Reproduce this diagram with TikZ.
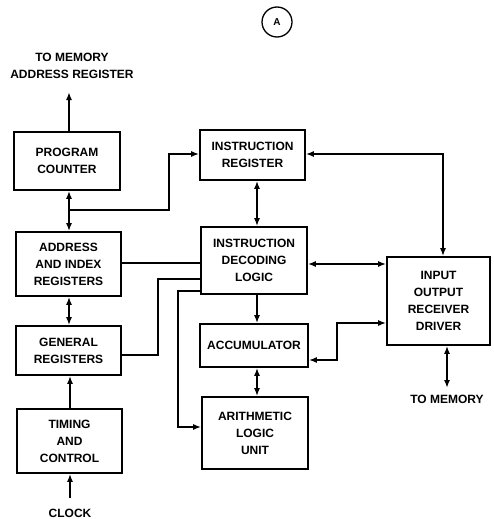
\documentclass[tikz,border=0pt]{standalone}
\usepackage{fontspec}
\setmainfont{Liberation Sans}
\usetikzlibrary{arrows.meta}
\begin{document}
\begin{tikzpicture}[x=1pt,y=-1pt,
  box/.style={draw,line width=1.6pt,align=center,inner sep=0pt,font=\bfseries\fontsize{12}{17}\selectfont},
  lbl/.style={align=center,inner sep=0pt,font=\bfseries\fontsize{12}{17}\selectfont},
  conn/.style={line width=1.6pt},
  >={Latex[length=8pt,width=6pt]}]
\useasboundingbox (0,0) rectangle (494,519);
% circle label
\node[draw,circle,line width=1.3pt,minimum size=30pt,inner sep=0pt,font=\bfseries\fontsize{10}{10}\selectfont] (circA) at (277,22) {A};
% boxes
\node[box,minimum width=106pt,minimum height=58pt] (pc) at (67,161) {PROGRAM\\COUNTER};
\node[box,minimum width=105pt,minimum height=64pt] (air) at (68.5,264) {ADDRESS\\AND INDEX\\REGISTERS};
\node[box,minimum width=105pt,minimum height=49pt] (gr) at (68.5,350.5) {GENERAL\\REGISTERS};
\node[box,minimum width=105pt,minimum height=64pt] (tc) at (69.5,441) {TIMING\\AND\\CONTROL};
\node[box,minimum width=105pt,minimum height=50pt] (ir) at (252.5,155) {INSTRUCTION\\REGISTER};
\node[box,minimum width=106pt,minimum height=67pt] (idl) at (254,260.5) {INSTRUCTION\\DECODING\\LOGIC};
\node[box,minimum width=108pt,minimum height=43pt] (acc) at (254,345.5) {ACCUMULATOR};
\node[box,minimum width=106pt,minimum height=72pt] (alu) at (255,433) {ARITHMETIC\\LOGIC\\UNIT};
\node[box,minimum width=103pt,minimum height=88pt] (io) at (438.5,301) {INPUT\\OUTPUT\\RECEIVER\\DRIVER};
% labels
\node[lbl] (tomar) at (72,66) {TO MEMORY\\ADDRESS REGISTER};
\node[lbl] (clock) at (70,513) {CLOCK};
\node[lbl] (tomem) at (447,399) {TO MEMORY};
% coordinates
\coordinate (marend) at (69,92);
\coordinate (clkend) at (70,498);
\coordinate (j1) at (69,210);
\coordinate (memend) at (447,388);
% left column
\draw[conn,->] (pc.north -| marend) -- (marend);
\draw[conn,<->] (pc.south -| j1) -- (air.north -| j1);
\draw[conn,->] (j1) -- (169,210) |- (ir.west |- 0,154);
\draw[conn,<->] (air.south -| j1) -- (gr.north -| j1);
\draw[conn,->] (tc.north -| clkend) -- (gr.south -| clkend);
\draw[conn,->] (clkend) -- (tc.south -| clkend);
% left to decoding logic
\draw[conn] (air.east |- 0,263) -- (idl.west |- 0,263);
\draw[conn] (gr.east |- 0,355) -- (158,355) -- (158,279) -- (idl.west |- 0,279);
\draw[conn,->] (idl.west |- 0,291) -- (178,291) -- (178,427) -- (alu.west |- 0,427);
% center column
\draw[conn,<->] (ir.south -| 257,0) -- (idl.north -| 257,0);
\draw[conn,->] (idl.south -| 257,0) -- (acc.north -| 257,0);
\draw[conn,<->] (acc.south -| 257,0) -- (alu.north -| 257,0);
% right side
\draw[conn,<->] (ir.east |- 0,154) -- (443,154) -- (io.north -| 443,0);
\draw[conn,<->] (idl.east |- 0,264) -- (io.west |- 0,264);
\draw[conn,<->] (io.west |- 0,323) -- (337,323) -- (337,360) -- (acc.east |- 0,360);
\draw[conn,<->] (io.south -| memend) -- (memend);
\end{tikzpicture}
\end{document}
